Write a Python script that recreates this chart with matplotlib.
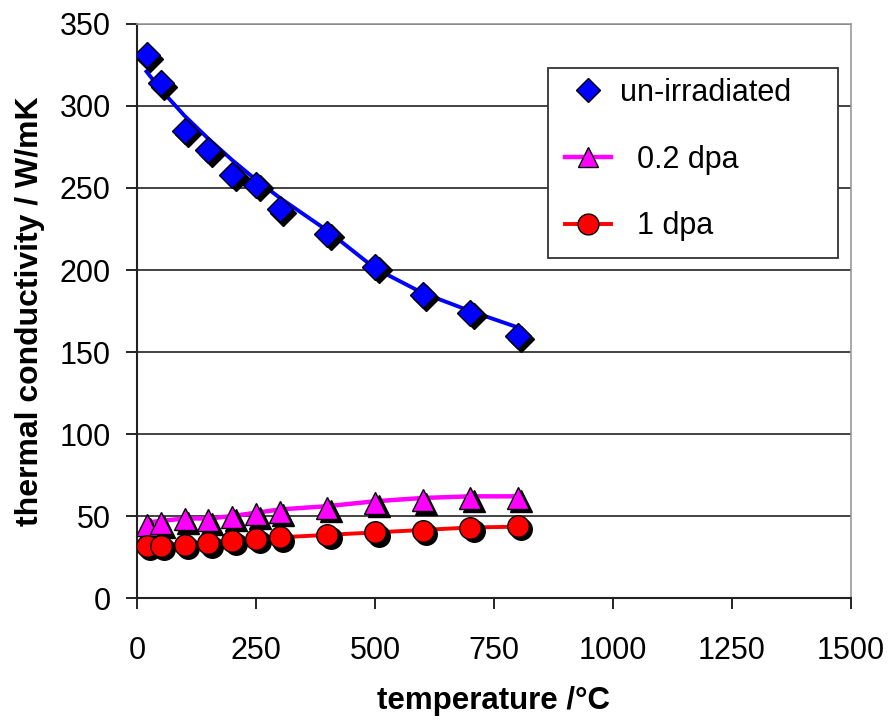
import numpy as np
import matplotlib
matplotlib.use("Agg")
import matplotlib.pyplot as plt
import matplotlib.transforms as mtransforms
from matplotlib.patches import Rectangle

plt.rcParams['font.family'] = ['Liberation Sans', 'DejaVu Sans']

# measured data
temp = [20, 50, 100, 150, 200, 250, 300, 400, 500, 600, 700, 800]
k_unirr = [331, 314, 285, 273, 258, 252, 237, 222, 202, 185, 174, 160]
k_02dpa = [44.5, 45.5, 48, 47.5, 49.5, 51, 52.5, 55, 58, 59.5, 61, 61]
k_1dpa = [32, 32, 32.5, 33.5, 35, 36, 37, 38.5, 40, 41, 43, 44]

# model curves
k_unirr_fit = [321, 310, 294, 280, 267, 255, 244, 224, 201, 186, 175, 165]
k_02dpa_fit = [46, 47, 48.5, 48.5, 50, 52, 54, 56, 59, 61, 62, 62]
k_1dpa_fit = [32, 32.5, 33, 34, 35, 36, 37, 38.5, 40, 41.5, 43, 43.5]

fig = plt.figure(figsize=(8.88, 7.2), dpi=100)
ax = fig.add_axes([0.1543, 0.1694, 0.8040, 0.7973])

# shadow offset for markers (down-right)
shadow = ax.transData + mtransforms.ScaledTranslation(3.5/100, -3.5/100, fig.dpi_scale_trans)

ms_d, ms_t, ms_c = 13.5, 16, 15.5

ax.plot(temp, k_unirr_fit, color='#0000ff', lw=2.8, zorder=3)
ax.plot(temp, k_02dpa_fit, color='#ff00ff', lw=3.2, zorder=3)
ax.plot(temp, k_1dpa_fit, color='#ff0000', lw=2.8, zorder=3)

for y, m, ms in [(k_unirr, 'D', ms_d), (k_02dpa, '^', ms_t), (k_1dpa, 'o', ms_c)]:
    ax.plot(temp, y, ls='none', marker=m, ms=ms, color='black',
            transform=shadow, zorder=4)

ax.plot(temp, k_unirr, ls='none', marker='D', ms=ms_d, mfc='#0000ff',
        mec='black', mew=1, zorder=5)
ax.plot(temp, k_02dpa, ls='none', marker='^', ms=ms_t, mfc='#ff00ff',
        mec='black', mew=1, zorder=5)
ax.plot(temp, k_1dpa, ls='none', marker='o', ms=ms_c, mfc='#ff0000',
        mec='black', mew=1, zorder=5)

# legend: frame drawn separately so the entries can sit with a wider left margin
ax.add_patch(Rectangle((0.576, 0.592), 0.406, 0.331, transform=ax.transAxes,
                       facecolor='white', edgecolor='#333333', lw=1.3, zorder=6))
h1, = ax.plot([], [], ls='none', marker='D', ms=12, mfc='#0000ff', mec='black', mew=1)
h2, = ax.plot([], [], color='#ff00ff', lw=3.2, marker='^', ms=15, mfc='#ff00ff', mec='black', mew=1)
h3, = ax.plot([], [], color='#ff0000', lw=2.8, marker='o', ms=15, mfc='#ff0000', mec='black', mew=1)
leg = ax.legend([h1, h2, h3], ['un-irradiated', '  0.2 dpa', '  1 dpa'],
                loc='upper left', bbox_to_anchor=(0.600, 0.906),
                borderaxespad=0, borderpad=0, fontsize=22, frameon=False,
                handlelength=1.5, handletextpad=0.3, labelspacing=1.2)
leg.set_zorder(7)

ax.set_xlim(0, 1500)
ax.set_ylim(0, 350)
ax.set_xticks(np.arange(0, 1501, 250))
ax.set_yticks(np.arange(0, 351, 50))
ax.yaxis.grid(True, color='#222222', lw=1.2)
ax.set_axisbelow(True)

ax.tick_params(direction='out', length=8, width=1.2, labelsize=22, colors='black')
ax.tick_params(axis='y', pad=11)
ax.tick_params(axis='x', pad=19)
for s in ['left', 'bottom']:
    ax.spines[s].set_color('#222222')
    ax.spines[s].set_linewidth(1.5)
for s in ['top', 'right']:
    ax.spines[s].set_color('#999999')
    ax.spines[s].set_linewidth(1.2)

ax.set_xlabel('temperature /°C', fontsize=22.5, fontweight='bold', labelpad=15)
ax.set_ylabel('thermal conductivity / W/mK', fontsize=23, fontweight='bold', labelpad=10)

fig.savefig('out.png', dpi=100, facecolor='white')
